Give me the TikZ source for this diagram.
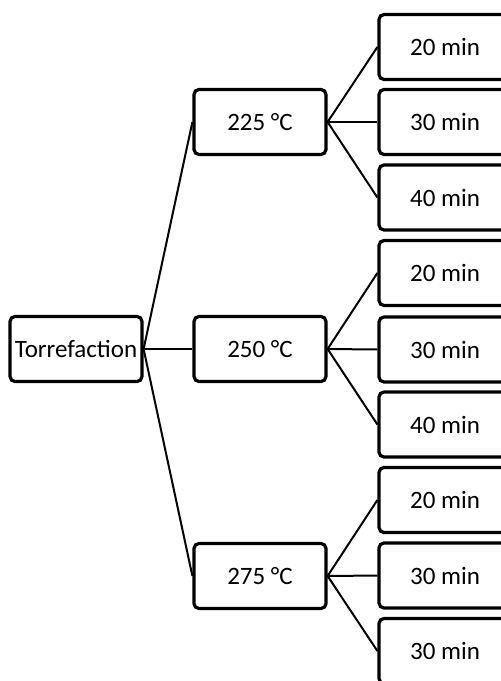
\documentclass[tikz,border=0pt]{standalone}
\usepackage{fontspec}
\setmainfont{Carlito}
\begin{document}
\begin{tikzpicture}[x=1pt,y=-1pt,
  box/.style={draw=black, line width=3.2pt, rounded corners=5pt, fill=white,
    minimum width=132pt, minimum height=65pt, inner sep=0pt,
    font=\fontsize{25}{29}\selectfont},
  conn/.style={draw=black, line width=2pt}]
\useasboundingbox (0,0) rectangle (501,681);
\begin{scope}
\clip (0,0) rectangle (501,681);
\node[box] (root) at (76,349) {Torrefaction};
\node[box] (t1) at (260,122) {225 °C};
\node[box] (t2) at (260,349) {250 °C};
\node[box] (t3) at (260,576) {275 °C};
\node[box] (a1) at (445,47) {20 min};
\node[box] (a2) at (445,122) {30 min};
\node[box] (a3) at (445,197.5) {40 min};
\node[box] (b1) at (445,273) {20 min};
\node[box] (b2) at (445,349.5) {30 min};
\node[box] (b3) at (445,424.5) {40 min};
\node[box] (c1) at (445,500) {20 min};
\node[box] (c2) at (445,575.5) {30 min};
\node[box] (c3) at (445,651) {30 min};
\draw[conn] (root.east) -- (t1.west);
\draw[conn] (root.east) -- (t2.west);
\draw[conn] (root.east) -- (t3.west);
\foreach \t/\p in {t1/a,t2/b,t3/c}{
  \draw[conn] (\t.east) -- (\p1.west);
  \draw[conn] (\t.east) -- (\p2.west);
  \draw[conn] (\t.east) -- (\p3.west);
}
\end{scope}
\end{tikzpicture}
\end{document}
